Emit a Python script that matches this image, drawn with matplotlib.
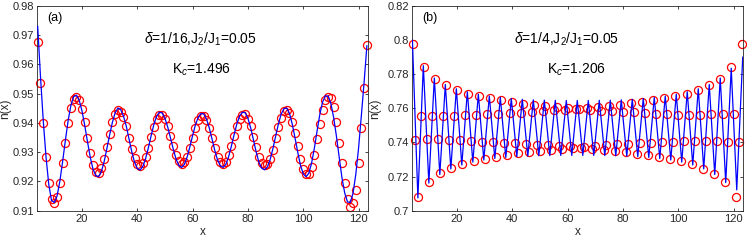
import matplotlib
matplotlib.use("Agg")
import matplotlib.pyplot as plt
from matplotlib.ticker import FuncFormatter

plt.rcParams['font.family'] = ['Liberation Sans', 'DejaVu Sans']
plt.rcParams['mathtext.fontset'] = 'custom'
plt.rcParams['mathtext.rm'] = 'Liberation Sans'
plt.rcParams['mathtext.it'] = 'Liberation Sans:italic'

# lattice sites shown in both panels
x_sites = list(range(4, 124))

# (a) delta = 1/16 : DMRG density (circles) and fit (line), one value per site
n_a = [0.9676, 0.9538, 0.9401, 0.9283, 0.9194, 0.9140, 0.9126, 0.9148, 0.9195, 0.9262,
       0.9333, 0.9401, 0.9452, 0.9482, 0.9490, 0.9479, 0.9448, 0.9402, 0.9348, 0.9297,
       0.9256, 0.9232, 0.9230, 0.9246, 0.9277, 0.9318, 0.9362, 0.9402, 0.9431, 0.9444,
       0.9439, 0.9419, 0.9388, 0.9349, 0.9311, 0.9279, 0.9259, 0.9253, 0.9262, 0.9284,
       0.9316, 0.9352, 0.9387, 0.9414, 0.9428, 0.9428, 0.9414, 0.9389, 0.9356, 0.9321,
       0.9290, 0.9269, 0.9260, 0.9266, 0.9285, 0.9314, 0.9349, 0.9382, 0.9409, 0.9424,
       0.9425, 0.9411, 0.9383, 0.9349, 0.9313, 0.9284, 0.9265, 0.9259, 0.9267, 0.9289,
       0.9320, 0.9355, 0.9388, 0.9413, 0.9427, 0.9429, 0.9415, 0.9388, 0.9353, 0.9317,
       0.9285, 0.9263, 0.9255, 0.9259, 0.9278, 0.9309, 0.9347, 0.9386, 0.9418, 0.9440,
       0.9446, 0.9434, 0.9405, 0.9365, 0.9320, 0.9276, 0.9243, 0.9226, 0.9224, 0.9248,
       0.9292, 0.9344, 0.9398, 0.9446, 0.9478, 0.9488, 0.9486, 0.9455, 0.9402, 0.9333,
       0.9262, 0.9196, 0.9140, 0.9112, 0.9125, 0.9172, 0.9263, 0.9384, 0.9520, 0.9666]
fit_a = [0.9730, 0.9560, 0.9410, 0.9285, 0.9190, 0.9135, 0.9128, 0.9150, 0.9200, 0.9267,
         0.9340, 0.9408, 0.9460, 0.9490, 0.9495, 0.9478, 0.9442, 0.9392, 0.9336, 0.9283,
         0.9242, 0.9220, 0.9216, 0.9233, 0.9267, 0.9312, 0.9359, 0.9402, 0.9435, 0.9451,
         0.9446, 0.9424, 0.9390, 0.9346, 0.9302, 0.9266, 0.9244, 0.9239, 0.9251, 0.9278,
         0.9315, 0.9356, 0.9395, 0.9423, 0.9437, 0.9434, 0.9416, 0.9386, 0.9349, 0.9311,
         0.9277, 0.9255, 0.9248, 0.9258, 0.9283, 0.9318, 0.9357, 0.9393, 0.9419, 0.9432,
         0.9431, 0.9414, 0.9384, 0.9346, 0.9307, 0.9274, 0.9254, 0.9248, 0.9258, 0.9284,
         0.9320, 0.9360, 0.9397, 0.9424, 0.9437, 0.9435, 0.9416, 0.9383, 0.9342, 0.9300,
         0.9265, 0.9245, 0.9240, 0.9249, 0.9274, 0.9311, 0.9354, 0.9396, 0.9430, 0.9449,
         0.9451, 0.9433, 0.9397, 0.9350, 0.9300, 0.9255, 0.9226, 0.9216, 0.9228, 0.9262,
         0.9313, 0.9373, 0.9430, 0.9472, 0.9493, 0.9492, 0.9466, 0.9418, 0.9354, 0.9282,
         0.9212, 0.9160, 0.9130, 0.9128, 0.9160, 0.9225, 0.9315, 0.9425, 0.9540, 0.9664]

# (b) delta = 1/4 : DMRG density, one value per site
n_b = [0.7977, 0.7415, 0.7080, 0.7555, 0.7844, 0.7418, 0.7170, 0.7555, 0.7774, 0.7418,
       0.7219, 0.7557, 0.7735, 0.7416, 0.7249, 0.7558, 0.7708, 0.7413, 0.7274, 0.7560,
       0.7686, 0.7410, 0.7291, 0.7562, 0.7672, 0.7405, 0.7305, 0.7565, 0.7658, 0.7400,
       0.7317, 0.7568, 0.7648, 0.7398, 0.7327, 0.7572, 0.7638, 0.7395, 0.7336, 0.7575,
       0.7628, 0.7390, 0.7344, 0.7580, 0.7620, 0.7388, 0.7352, 0.7584, 0.7614, 0.7384,
       0.7358, 0.7588, 0.7607, 0.7380, 0.7363, 0.7592, 0.7602, 0.7377, 0.7368, 0.7596,
       0.7597, 0.7369, 0.7376, 0.7603, 0.7591, 0.7362, 0.7381, 0.7608, 0.7587, 0.7357,
       0.7385, 0.7615, 0.7583, 0.7351, 0.7389, 0.7621, 0.7579, 0.7343, 0.7391, 0.7629,
       0.7576, 0.7335, 0.7394, 0.7639, 0.7573, 0.7326, 0.7397, 0.7649, 0.7569, 0.7316,
       0.7401, 0.7659, 0.7566, 0.7304, 0.7404, 0.7673, 0.7563, 0.7290, 0.7408, 0.7687,
       0.7562, 0.7272, 0.7410, 0.7710, 0.7563, 0.7247, 0.7408, 0.7737, 0.7565, 0.7216,
       0.7406, 0.7775, 0.7566, 0.7167, 0.7405, 0.7845, 0.7566, 0.7079, 0.7404, 0.7976]

# (b) fit curve: successive maxima / minima of the oscillation
fit_b_x = [3.90, 5.88, 7.85, 9.84, 11.83, 13.81, 15.80, 17.79, 19.78, 21.76,
           23.75, 25.74, 27.73, 29.71, 31.70, 33.69, 35.68, 37.66, 39.65, 41.64,
           43.63, 45.61, 47.60, 49.59, 51.58, 53.56, 55.55, 57.54, 59.53, 61.51,
           63.50, 65.49, 67.48, 69.46, 71.45, 73.44, 75.43, 77.41, 79.40, 81.39,
           83.38, 85.36, 87.35, 89.34, 91.33, 93.31, 95.30, 97.29, 99.28, 101.26,
           103.25, 105.24, 107.23, 109.21, 111.20, 113.19, 115.18, 117.16, 119.15, 121.14,
           123.30]
fit_b = [0.8000, 0.7075, 0.7850, 0.7162, 0.7778, 0.7212, 0.7740, 0.7245, 0.7715, 0.7268,
         0.7697, 0.7285, 0.7683, 0.7297, 0.7672, 0.7306, 0.7664, 0.7312, 0.7658, 0.7317,
         0.7653, 0.7320, 0.7650, 0.7322, 0.7648, 0.7323, 0.7647, 0.7324, 0.7646, 0.7324,
         0.7646, 0.7324, 0.7646, 0.7324, 0.7647, 0.7323, 0.7648, 0.7322, 0.7650, 0.7320,
         0.7653, 0.7317, 0.7658, 0.7312, 0.7664, 0.7306, 0.7672, 0.7297, 0.7683, 0.7285,
         0.7697, 0.7268, 0.7715, 0.7245, 0.7740, 0.7212, 0.7778, 0.7165, 0.7835, 0.7122,
         0.7900]

panels = [
    dict(n=n_a, fx=x_sites, fy=fit_a, ylim=(0.91, 0.98), yticks=[0.91, 0.92, 0.93, 0.94, 0.95, 0.96, 0.97, 0.98],
         tag='(a)', line1=r'$\delta$=1/16,J$_2$/J$_1$=0.05', line1_x=0.323, kc=r'K$_c$=1.496', ylab_x=-0.078),
    dict(n=n_b, fx=fit_b_x, fy=fit_b, ylim=(0.70, 0.82), yticks=[0.70, 0.72, 0.74, 0.76, 0.78, 0.80, 0.82],
         tag='(b)', line1=r'$\delta$=1/4,J$_2$/J$_1$=0.05', line1_x=0.307, kc=r'K$_c$=1.206', ylab_x=-0.095),
]

fig = plt.figure(figsize=(7.47, 2.43), dpi=100)
lefts = [0.0499, 0.5519]
fmt = FuncFormatter(lambda v, p: ('%g' % round(v, 4)))

for left, p in zip(lefts, panels):
    ax = fig.add_axes([left, 0.1329, 0.4431, 0.8424])
    ax.plot(x_sites, p['n'], 'o', mfc='none', mec=(1, 0, 0), ms=5.8, mew=0.9,
            clip_on=False, zorder=2)
    ax.plot(p['fx'], p['fy'], '-', color=(0, 0, 1), lw=0.9, zorder=3)
    ax.set_xlim(3.85, 123.5)
    ax.set_ylim(*p['ylim'])
    ax.set_xticks([20, 40, 60, 80, 100, 120])
    ax.set_yticks(p['yticks'])
    ax.yaxis.set_major_formatter(fmt)
    ax.tick_params(direction='in', top=True, right=True, length=2.5, width=0.6,
                   labelsize=8, colors='#262626', pad=2.5)
    for s in ax.spines.values():
        s.set_linewidth(0.6)
        s.set_color('#262626')
    ax.set_xlabel('x', fontsize=8.5, color='#262626', labelpad=1)
    ax.set_ylabel('n(x)', fontsize=8.5, color='#262626')
    ax.yaxis.set_label_coords(p['ylab_x'], 0.5)
    ax.text(0.031, 0.94, p['tag'], transform=ax.transAxes, fontsize=9, va='center')
    ax.text(p['line1_x'], 0.817, p['line1'], transform=ax.transAxes, fontsize=10, va='baseline')
    ax.text(0.406, 0.668, p['kc'], transform=ax.transAxes, fontsize=10, va='baseline')

fig.savefig('out.png', dpi=100)
